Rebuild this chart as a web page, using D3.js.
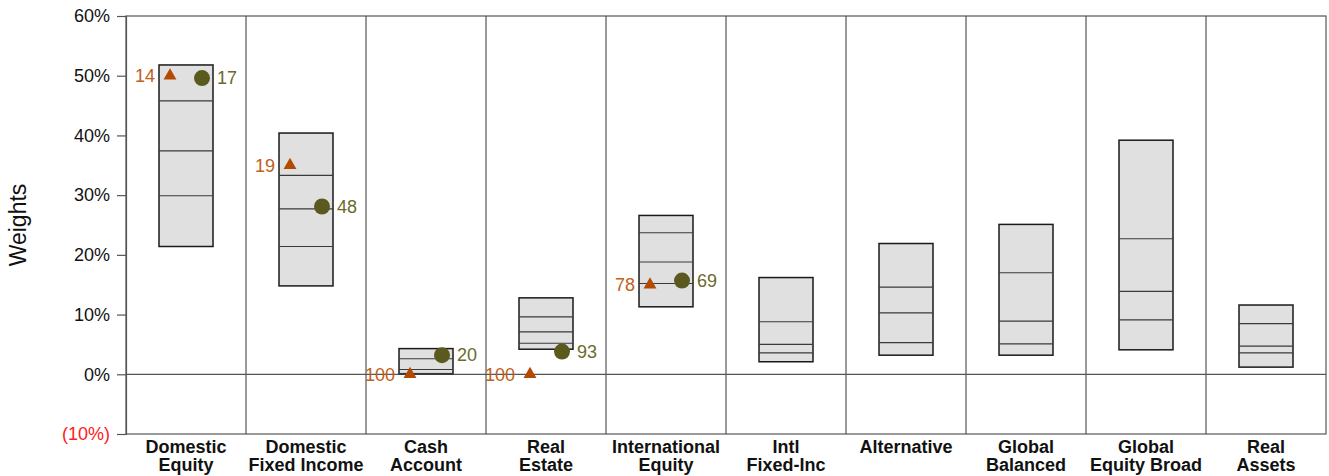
<!DOCTYPE html>
<html>
<head>
<meta charset="utf-8">
<script src="https://cdn.jsdelivr.net/npm/d3@7"></script>
<style>
  body { margin: 0; background: #fff; }
  text { font-family: "Liberation Sans", Arial, sans-serif; }
</style>
</head>
<body>
<div id="chart"></div>
<script>
// asset classes, two lines per label
var categories = [
  "Domestic\nEquity", "Domestic\nFixed Income", "Cash\nAccount", "Real\nEstate",
  "International\nEquity", "Intl\nFixed-Inc", "Alternative", "Global\nBalanced",
  "Global\nEquity Broad", "Real\nAssets"
];

// percentile ranges of weights (%)
var p95 = [51.8, 40.4, 4.3, 12.8, 26.6, 16.2, 21.9, 25.1, 39.2, 11.6];
var p75 = [45.8, 33.3, 2.6, 9.6, 23.7, 8.8, 14.6, 17.0, 22.7, 8.5];
var p50 = [37.4, 27.7, 0.8, 7.1, 18.8, 5.0, 10.3, 8.9, 13.9, 4.7];
var p25 = [29.9, 21.4, 0.1, 5.2, 15.2, 3.6, 5.3, 5.1, 9.1, 3.6];
var p5  = [21.4, 14.8, 0.1, 4.2, 11.3, 2.1, 3.2, 3.2, 4.1, 1.2];

// triangle series and its rank labels
var triValues = [50.0, 35.0, 0, 0, 15.0];
var triRanks  = [14, 19, 100, 100, 78];

// circle series and its rank labels
var dotValues = [49.6, 28.1, 3.2, 3.8, 15.7];
var dotRanks  = [17, 48, 20, 93, 69];

var yTicks = [-10, 0, 10, 20, 30, 40, 50, 60];

var W = 1329, H = 476;
var plotLeft = 126, plotRight = 1326, plotTop = 16, plotBottom = 434;

var svg = d3.select('#chart').append('svg').attr('width', W).attr('height', H);

var x = d3.scaleBand().domain(d3.range(categories.length)).range([plotLeft, plotRight]);
var y = d3.scaleLinear().domain([-10, 60]).range([plotBottom, plotTop]);

// frame and column dividers
svg.append('rect')
  .attr('x', plotLeft).attr('y', plotTop)
  .attr('width', plotRight - plotLeft).attr('height', plotBottom - plotTop)
  .attr('fill', 'none').attr('stroke', '#555').attr('stroke-width', 1.2);

svg.selectAll('.div').data(d3.range(1, categories.length)).enter().append('line')
  .attr('x1', d => x(d)).attr('x2', d => x(d))
  .attr('y1', plotTop).attr('y2', plotBottom)
  .attr('stroke', '#555').attr('stroke-width', 1.2);

svg.append('line')
  .attr('x1', plotLeft).attr('x2', plotRight)
  .attr('y1', y(0)).attr('y2', y(0))
  .attr('stroke', '#555').attr('stroke-width', 1.2);

// y axis
var yAxis = d3.axisLeft(y).tickValues(yTicks).tickSize(9).tickPadding(7)
  .tickFormat(d => d < 0 ? '(' + Math.abs(d) + '%)' : d + '%');
var ya = svg.append('g').attr('transform', 'translate(' + plotLeft + ',0)').call(yAxis);
ya.select('.domain').attr('stroke', '#555').attr('stroke-width', 1.2);
ya.selectAll('.tick line').attr('stroke', '#555').attr('stroke-width', 1.2);
ya.selectAll('.tick text')
  .attr('font-size', 18)
  .attr('font-family', '"Liberation Sans", Arial, sans-serif')
  .attr('fill', d => d < 0 ? '#ff2020' : '#111');

svg.append('text')
  .attr('transform', 'translate(26,225) rotate(-90)')
  .attr('text-anchor', 'middle')
  .attr('font-size', 23)
  .attr('fill', '#111')
  .text('Weights');

// boxes
var bw = 54;
var g = svg.selectAll('.box').data(categories).enter().append('g')
  .attr('transform', (d, i) => 'translate(' + (x(i) + x.bandwidth() / 2) + ',0)');

g.append('rect')
  .attr('x', -bw / 2)
  .attr('y', (d, i) => y(p95[i]))
  .attr('width', bw)
  .attr('height', (d, i) => y(p5[i]) - y(p95[i]))
  .attr('fill', '#e0e0e0').attr('stroke', '#1a1a1a').attr('stroke-width', 1.5);

[p75, p50, p25].forEach(function (arr) {
  g.append('line')
    .attr('x1', -bw / 2).attr('x2', bw / 2)
    .attr('y1', (d, i) => y(arr[i])).attr('y2', (d, i) => y(arr[i]))
    .attr('stroke', '#3a3a3a').attr('stroke-width', 1.2);
});

// category labels
g.append('text')
  .attr('text-anchor', 'middle')
  .attr('font-size', 18).attr('font-weight', 'bold').attr('fill', '#111')
  .each(function (d) {
    var t = d3.select(this);
    d.split('\n').forEach(function (s, k) {
      t.append('tspan').attr('x', 0).attr('y', 453 + k * 18).text(s);
    });
  });

// triangle markers
var tri = d3.symbol().type(d3.symbolTriangle).size(72);
triValues.forEach(function (v, i) {
  var cx = x(i) + x.bandwidth() / 2 - 16;
  svg.append('path').attr('d', tri)
    .attr('transform', 'translate(' + cx + ',' + y(v) + ')')
    .attr('fill', '#b34a00');
  svg.append('text')
    .attr('x', cx - 15).attr('y', y(v)).attr('dy', '0.35em')
    .attr('text-anchor', 'end')
    .attr('font-size', 18).attr('fill', '#c0601a')
    .text(triRanks[i]);
});

// circle markers
dotValues.forEach(function (v, i) {
  var cx = x(i) + x.bandwidth() / 2 + 16;
  svg.append('circle')
    .attr('cx', cx).attr('cy', y(v)).attr('r', 8)
    .attr('fill', '#5a5a1e');
  svg.append('text')
    .attr('x', cx + 15).attr('y', y(v)).attr('dy', '0.35em')
    .attr('font-size', 18).attr('fill', '#6b6a2a')
    .text(dotRanks[i]);
});
</script>
</body>
</html>
